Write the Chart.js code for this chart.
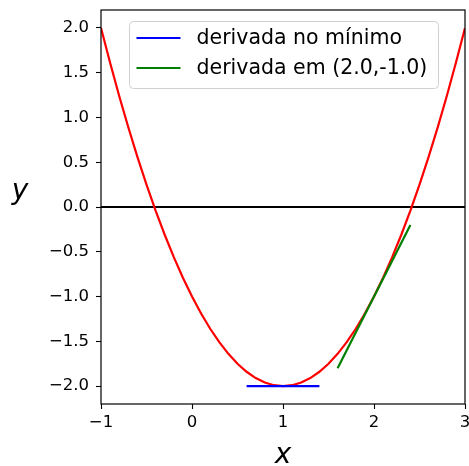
<!DOCTYPE html>
<html>
<head>
<meta charset="utf-8">
<script src="https://cdn.jsdelivr.net/npm/chart.js@4"></script>
<style>
  html, body { margin: 0; padding: 0; background: #ffffff; }
  canvas { display: block; }
</style>
</head>
<body>
<canvas id="c" width="469" height="466"></canvas>
<script>
// ---- data ----
const curveX = [-1.0, -0.9, -0.8, -0.7, -0.6, -0.5, -0.4, -0.3, -0.2, -0.1,
                 0.0,  0.1,  0.2,  0.3,  0.4,  0.5,  0.6,  0.7,  0.8,  0.9,
                 1.0,  1.1,  1.2,  1.3,  1.4,  1.5,  1.6,  1.7,  1.8,  1.9,
                 2.0,  2.1,  2.2,  2.3,  2.4,  2.5,  2.6,  2.7,  2.8,  2.9, 3.0];
const curveY = [ 2.00,  1.61,  1.24,  0.89,  0.56,  0.25, -0.04, -0.31, -0.56, -0.79,
                -1.00, -1.19, -1.36, -1.51, -1.64, -1.75, -1.84, -1.91, -1.96, -1.99,
                -2.00, -1.99, -1.96, -1.91, -1.84, -1.75, -1.64, -1.51, -1.36, -1.19,
                -1.00, -0.79, -0.56, -0.31, -0.04,  0.25,  0.56,  0.89,  1.24,  1.61, 2.00];
const zeroLineX = [-1, 3];
const zeroLineY = [0, 0];
const minTangentX = [0.6, 1.4];
const minTangentY = [-2.0, -2.0];
const tangentX = [1.6, 2.4];
const tangentY = [-1.8, -0.2];
const seriesLabels = ["derivada no mínimo", "derivada em (2.0,-1.0)"];
const xTicks = [-1, 0, 1, 2, 3];
const yTicks = [-2.0, -1.5, -1.0, -0.5, 0.0, 0.5, 1.0, 1.5, 2.0];
const xTitle = "x";
const yTitle = "y";

const pts = (xs, ys) => xs.map((x, i) => ({ x: x, y: ys[i] }));
const fmtMinus = s => s.replace('-', '\u2212');

const framePlugin = {
  id: 'frame',
  afterDatasetsDraw(chart) {
    const { ctx, chartArea: a } = chart;
    ctx.save();
    ctx.strokeStyle = '#000';
    ctx.lineWidth = 1.2;
    ctx.strokeRect(a.left, a.top, a.right - a.left, a.bottom - a.top);
    ctx.restore();
  }
};

const overlayPlugin = {
  id: 'overlay',
  afterDraw(chart) {
    const { ctx, chartArea: a } = chart;
    ctx.save();
    // legend box
    const bx = a.left + 28.5, by = a.top + 11.5, bw = 309, bh = 67;
    ctx.beginPath();
    ctx.roundRect(bx, by, bw, bh, 4);
    ctx.fillStyle = 'rgba(255,255,255,0.8)';
    ctx.fill();
    ctx.strokeStyle = '#d0d0d0';
    ctx.lineWidth = 1;
    ctx.stroke();
    const items = chart.data.datasets.filter(d => d.label);
    items.sort((p, q) => seriesLabels.indexOf(p.label) - seriesLabels.indexOf(q.label));
    ctx.font = '20.5px "DejaVu Sans"';
    ctx.textBaseline = 'middle';
    ctx.textAlign = 'left';
    items.forEach((d, i) => {
      const y = by + 16.5 + i * 30;
      ctx.beginPath();
      ctx.moveTo(bx + 7, y);
      ctx.lineTo(bx + 51, y);
      ctx.strokeStyle = d.borderColor;
      ctx.lineWidth = 2.2;
      ctx.stroke();
      ctx.fillStyle = '#000';
      ctx.fillText(d.label, bx + 67, y + 1);
    });
    // axis titles
    ctx.font = 'italic 28px "DejaVu Sans"';
    ctx.fillStyle = '#000';
    ctx.textAlign = 'center';
    ctx.textBaseline = 'alphabetic';
    ctx.fillText(xTitle, (a.left + a.right) / 2, 463);
    ctx.fillText(yTitle, 20, 199);
    ctx.restore();
  }
};

new Chart(document.getElementById('c'), {
  type: 'line',
  data: {
    datasets: [
      { label: seriesLabels[0], data: pts(minTangentX, minTangentY), borderColor: '#0000ff',
        borderWidth: 2.2, pointRadius: 0, order: 0 },
      { label: seriesLabels[1], data: pts(tangentX, tangentY), borderColor: '#008000',
        borderWidth: 2.2, pointRadius: 0, order: 1 },
      { data: pts(curveX, curveY), borderColor: '#ff0000', borderWidth: 2.2,
        pointRadius: 0, order: 2 },
      { data: pts(zeroLineX, zeroLineY), borderColor: '#000000', borderWidth: 2.2,
        pointRadius: 0, order: 3 }
    ]
  },
  options: {
    responsive: false,
    devicePixelRatio: 1,
    animation: false,
    layout: { padding: { top: 10, right: 4, left: 0, bottom: 0 } },
    plugins: { legend: { display: false }, tooltip: { enabled: false } },
    scales: {
      x: {
        type: 'linear', min: -1, max: 3,
        afterBuildTicks: s => { s.ticks = xTicks.map(v => ({ value: v })); },
        afterFit: s => { s.height = 62; s.paddingLeft = 0; s.paddingRight = 0; },
        grid: { drawOnChartArea: false, drawTicks: true, tickLength: 5, tickColor: '#000', tickWidth: 1.1 },
        border: { display: false },
        ticks: {
          color: '#000', padding: 4, maxRotation: 0, autoSkip: false,
          font: { family: 'DejaVu Sans', size: 16.5 },
          callback: v => fmtMinus(String(v))
        }
      },
      y: {
        type: 'linear', min: -2.2, max: 2.2,
        afterBuildTicks: s => { s.ticks = yTicks.map(v => ({ value: v })); },
        afterFit: s => { s.width = 101; s.paddingTop = 0; s.paddingBottom = 0; },
        grid: { drawOnChartArea: false, drawTicks: true, tickLength: 5, tickColor: '#000', tickWidth: 1.1 },
        border: { display: false },
        ticks: {
          color: '#000', padding: 7, autoSkip: false,
          font: { family: 'DejaVu Sans', size: 16.5 },
          callback: v => fmtMinus(Number(v).toFixed(1))
        }
      }
    }
  },
  plugins: [framePlugin, overlayPlugin]
});
</script>
</body>
</html>
